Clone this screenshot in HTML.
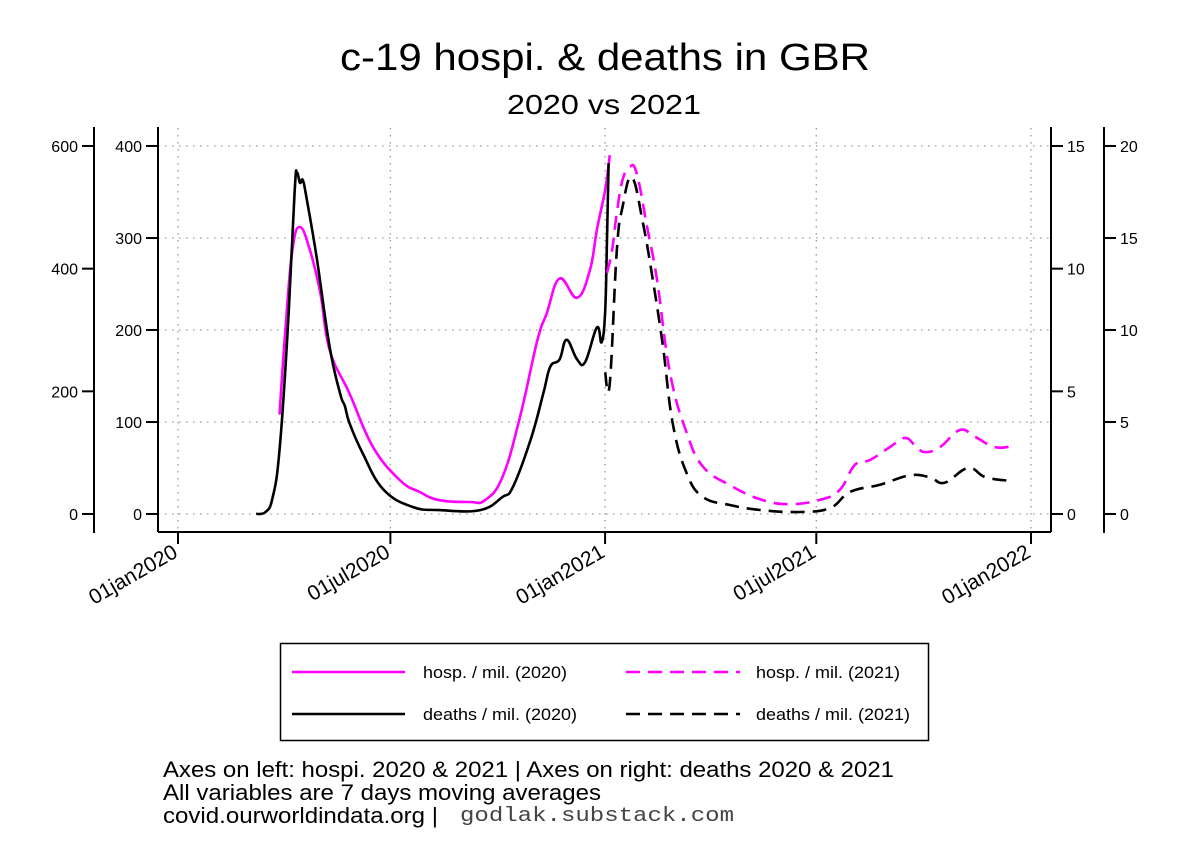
<!DOCTYPE html>
<html><head><meta charset="utf-8"><style>
html,body{margin:0;padding:0;background:#fff;}
svg{display:block;font-family:"Liberation Sans",Arial,sans-serif;}
</style></head><body>
<svg id="chart" width="1188" height="864" viewBox="0 0 1188 864" xmlns="http://www.w3.org/2000/svg">
<rect width="1188" height="864" fill="#fff"/>
<text x="605" y="70" font-size="38" text-anchor="middle" textLength="530" lengthAdjust="spacingAndGlyphs">c-19 hospi. &amp; deaths in GBR</text>
<text x="604" y="114" font-size="28" text-anchor="middle" textLength="194" lengthAdjust="spacingAndGlyphs">2020 vs 2021</text>
<g id="grid"></g>
<g id="axes"></g>
<g id="series"></g>
<g>
<rect x="280.5" y="643.5" width="648" height="97" fill="none" stroke="#000" stroke-width="1.5"/>
<line x1="292" y1="672" x2="405" y2="672" stroke="#ff00ff" stroke-width="2.5"/>
<text x="423" y="678" font-size="17" textLength="144" lengthAdjust="spacingAndGlyphs">hosp. / mil. (2020)</text>
<line x1="626" y1="672" x2="740" y2="672" stroke="#ff00ff" stroke-width="2.5" stroke-dasharray="14,8"/>
<text x="756" y="678" font-size="17" textLength="144" lengthAdjust="spacingAndGlyphs">hosp. / mil. (2021)</text>
<line x1="292" y1="714" x2="405" y2="714" stroke="#000" stroke-width="2.5"/>
<text x="423" y="720" font-size="17" textLength="154" lengthAdjust="spacingAndGlyphs">deaths / mil. (2020)</text>
<line x1="626" y1="714" x2="740" y2="714" stroke="#000" stroke-width="2.5" stroke-dasharray="14,8"/>
<text x="756" y="720" font-size="17" textLength="154" lengthAdjust="spacingAndGlyphs">deaths / mil. (2021)</text>
</g>
<text x="163" y="777" font-size="22" textLength="731" lengthAdjust="spacingAndGlyphs">Axes on left: hospi. 2020 &amp; 2021 | Axes on right: deaths 2020 &amp; 2021</text>
<text x="163" y="800" font-size="22" textLength="438" lengthAdjust="spacingAndGlyphs">All variables are 7 days moving averages</text>
<text x="163" y="823" font-size="22" textLength="275" lengthAdjust="spacingAndGlyphs">covid.ourworldindata.org |</text>
<text x="460" y="821" font-size="20" font-family="Liberation Mono,monospace" fill="#444" textLength="274" lengthAdjust="spacingAndGlyphs">godlak.substack.com</text>
</svg>
<script>
// x-axis tick labels and day offsets (days since 01jan2020)
const xTickDays = [0, 182, 366, 547, 731];
const xTickLabels = ["01jan2020", "01jul2020", "01jan2021", "01jul2021", "01jan2022"];
const hospInnerTicks = [0, 100, 200, 300, 400];
const hospOuterTicks = [0, 200, 400, 600];
const deathInnerTicks = [0, 5, 10, 15];
const deathOuterTicks = [0, 5, 10, 15, 20];

const hosp2020Days = [87, 92, 98, 104.5, 113, 122, 130, 147, 167, 190, 207, 224, 250, 263, 278, 293, 308, 316, 327, 342, 353, 359, 366, 370];
const hosp2020Vals = [108, 200, 287, 312, 287, 240, 178, 131, 73, 37, 24, 15, 13, 15, 40, 105, 189, 218, 256, 235, 265, 309, 352, 390];
const deaths2020Days = [67, 75, 81, 87, 94, 100, 102, 104.5, 107, 110.5, 119, 130, 139, 143, 147, 158, 176, 201, 224, 259, 278, 287, 302, 313, 319, 327, 333, 342, 349, 359, 363, 366, 367.6, 369];
const deaths2020Vals = [0, 0.08, 0.65, 2.6, 7.5, 13.2, 13.9, 13.5, 13.6, 12.8, 10.4, 6.8, 4.9, 4.4, 3.7, 2.5, 1.0, 0.29, 0.16, 0.16, 0.69, 1.1, 3.0, 4.9, 6.0, 6.3, 7.1, 6.3, 6.2, 7.6, 7.0, 8.2, 11.2, 14.3];
const hosp2021Days = [367.6, 372, 376, 381, 387, 393, 402, 410.5, 421.6, 436, 450, 473, 499, 524, 550, 567, 580, 593, 610, 623, 632, 640, 653, 670, 683, 700, 716];
const hosp2021Vals = [393, 430, 491, 545, 566, 556, 468, 382, 230, 132, 77, 47, 24, 16, 23, 39, 80, 88, 109, 124, 111, 101, 109, 137, 126, 109, 111];
const deaths2021Days = [366, 370, 376, 381, 389, 398.5, 407, 415.6, 424, 436, 450, 473, 499, 533, 559, 576, 602, 627, 644, 657, 677, 692, 713];
const deaths2021Vals = [7.7, 7.1, 14.3, 16.7, 18.3, 15.8, 12.7, 9.1, 4.9, 2.2, 0.92, 0.49, 0.22, 0.11, 0.33, 1.2, 1.6, 2.1, 2.0, 1.7, 2.5, 2.0, 1.8];

const NS = "http://www.w3.org/2000/svg";
const X0 = 178, X1 = 1031, Y0 = 514, YTOP = 146;
const xScale = d => X0 + d * (X1 - X0) / 731;
const yLin = max => v => Y0 - v * (Y0 - YTOP) / max;
const yHospIn = yLin(400), yHospOut = yLin(600), yDeathIn = yLin(15), yDeathOut = yLin(20);

function mk(tag, attrs, parent) {
  const e = document.createElementNS(NS, tag);
  for (const k in attrs) e.setAttribute(k, attrs[k]);
  parent.appendChild(e);
  return e;
}
const grid = document.getElementById('grid');
const axes = document.getElementById('axes');
const series = document.getElementById('series');

hospInnerTicks.forEach(v => {
  const l = mk('line', {x1: 158, x2: 1051, y1: yHospIn(v), y2: yHospIn(v), stroke: '#999', 'stroke-width': 1.3, 'stroke-dasharray': '1.5,5.5'}, grid);
  
  
});
xTickDays.forEach(d => {
  const l = mk('line', {x1: xScale(d), x2: xScale(d), y1: 128, y2: 532, stroke: '#999', 'stroke-width': 1.3, 'stroke-dasharray': '1.5,5.5'}, grid);
  
  
});

[[94,127,94,533],[158,127,158,532],[1051,127,1051,532],[1104,127,1104,533],[158,532,1051,532]].forEach(a => {
  const l = mk('line', {x1: a[0], y1: a[1], x2: a[2], y2: a[3], stroke: '#000', 'stroke-width': 2}, axes);
  
  
});

function yAxis(ticks, scale, axX, side, name) {
  ticks.forEach(v => {
    const y = scale(v);
    const tx1 = side < 0 ? axX - 12 : axX;
    mk('line', {x1: tx1, x2: tx1 + 12, y1: y, y2: y, stroke: '#000', 'stroke-width': 2}, axes);
    const t = mk('text', {x: side < 0 ? axX - 16 : axX + 16, y: y + 6, 'font-size': 16, 'text-anchor': side < 0 ? 'end' : 'start'}, axes);
    t.textContent = v;
    
    
  });
}
yAxis(hospOuterTicks, yHospOut, 94, -1, 'hosp-2021-axis');
yAxis(hospInnerTicks, yHospIn, 158, -1, 'hosp-2020-axis');
yAxis(deathInnerTicks, yDeathIn, 1051, 1, 'deaths-2020-axis');
yAxis(deathOuterTicks, yDeathOut, 1104, 1, 'deaths-2021-axis');

xTickDays.forEach((d, i) => {
  const x = xScale(d);
  mk('line', {x1: x, x2: x, y1: 532, y2: 544, stroke: '#000', 'stroke-width': 2}, axes);
  const t = mk('text', {x: x + 1, y: 556, 'font-size': 21, 'text-anchor': 'end', transform: `rotate(-30 ${x + 1} 556)`}, axes);
  t.textContent = xTickLabels[i];
  
  
});

function line(days, vals, scale, color, dash, name) {
  const P = days.map((d, i) => [xScale(d), scale(vals[i])]);
  let dstr = 'M' + P[0][0].toFixed(1) + ',' + P[0][1].toFixed(1);
  const t = 0.2;
  for (let i = 0; i < P.length - 1; i++) {
    const p0 = P[Math.max(0, i - 1)], p1 = P[i], p2 = P[i + 1], p3 = P[Math.min(P.length - 1, i + 2)];
    const c1 = [p1[0] + (p2[0] - p0[0]) * t, p1[1] + (p2[1] - p0[1]) * t];
    const c2 = [p2[0] - (p3[0] - p1[0]) * t, p2[1] - (p3[1] - p1[1]) * t];
    dstr += ' C' + c1.map(v => v.toFixed(1)).join(',') + ' ' + c2.map(v => v.toFixed(1)).join(',') + ' ' + p2.map(v => v.toFixed(1)).join(',');
  }
  const p = mk('path', {d: dstr, fill: 'none', stroke: color, 'stroke-width': 2.6, 'stroke-linejoin': 'round'}, series);
  if (dash) p.setAttribute('stroke-dasharray', dash);
  
  
}
line(hosp2020Days, hosp2020Vals, yHospIn, '#ff00ff', null, 'hosp-2020-line');
line(deaths2020Days, deaths2020Vals, yDeathIn, '#000', null, 'deaths-2020-line');
line(hosp2021Days, hosp2021Vals, yHospOut, '#ff00ff', '14,8', 'hosp-2021-line');
line(deaths2021Days, deaths2021Vals, yDeathOut, '#000', '14,8', 'deaths-2021-line');
</script>
</body></html>
